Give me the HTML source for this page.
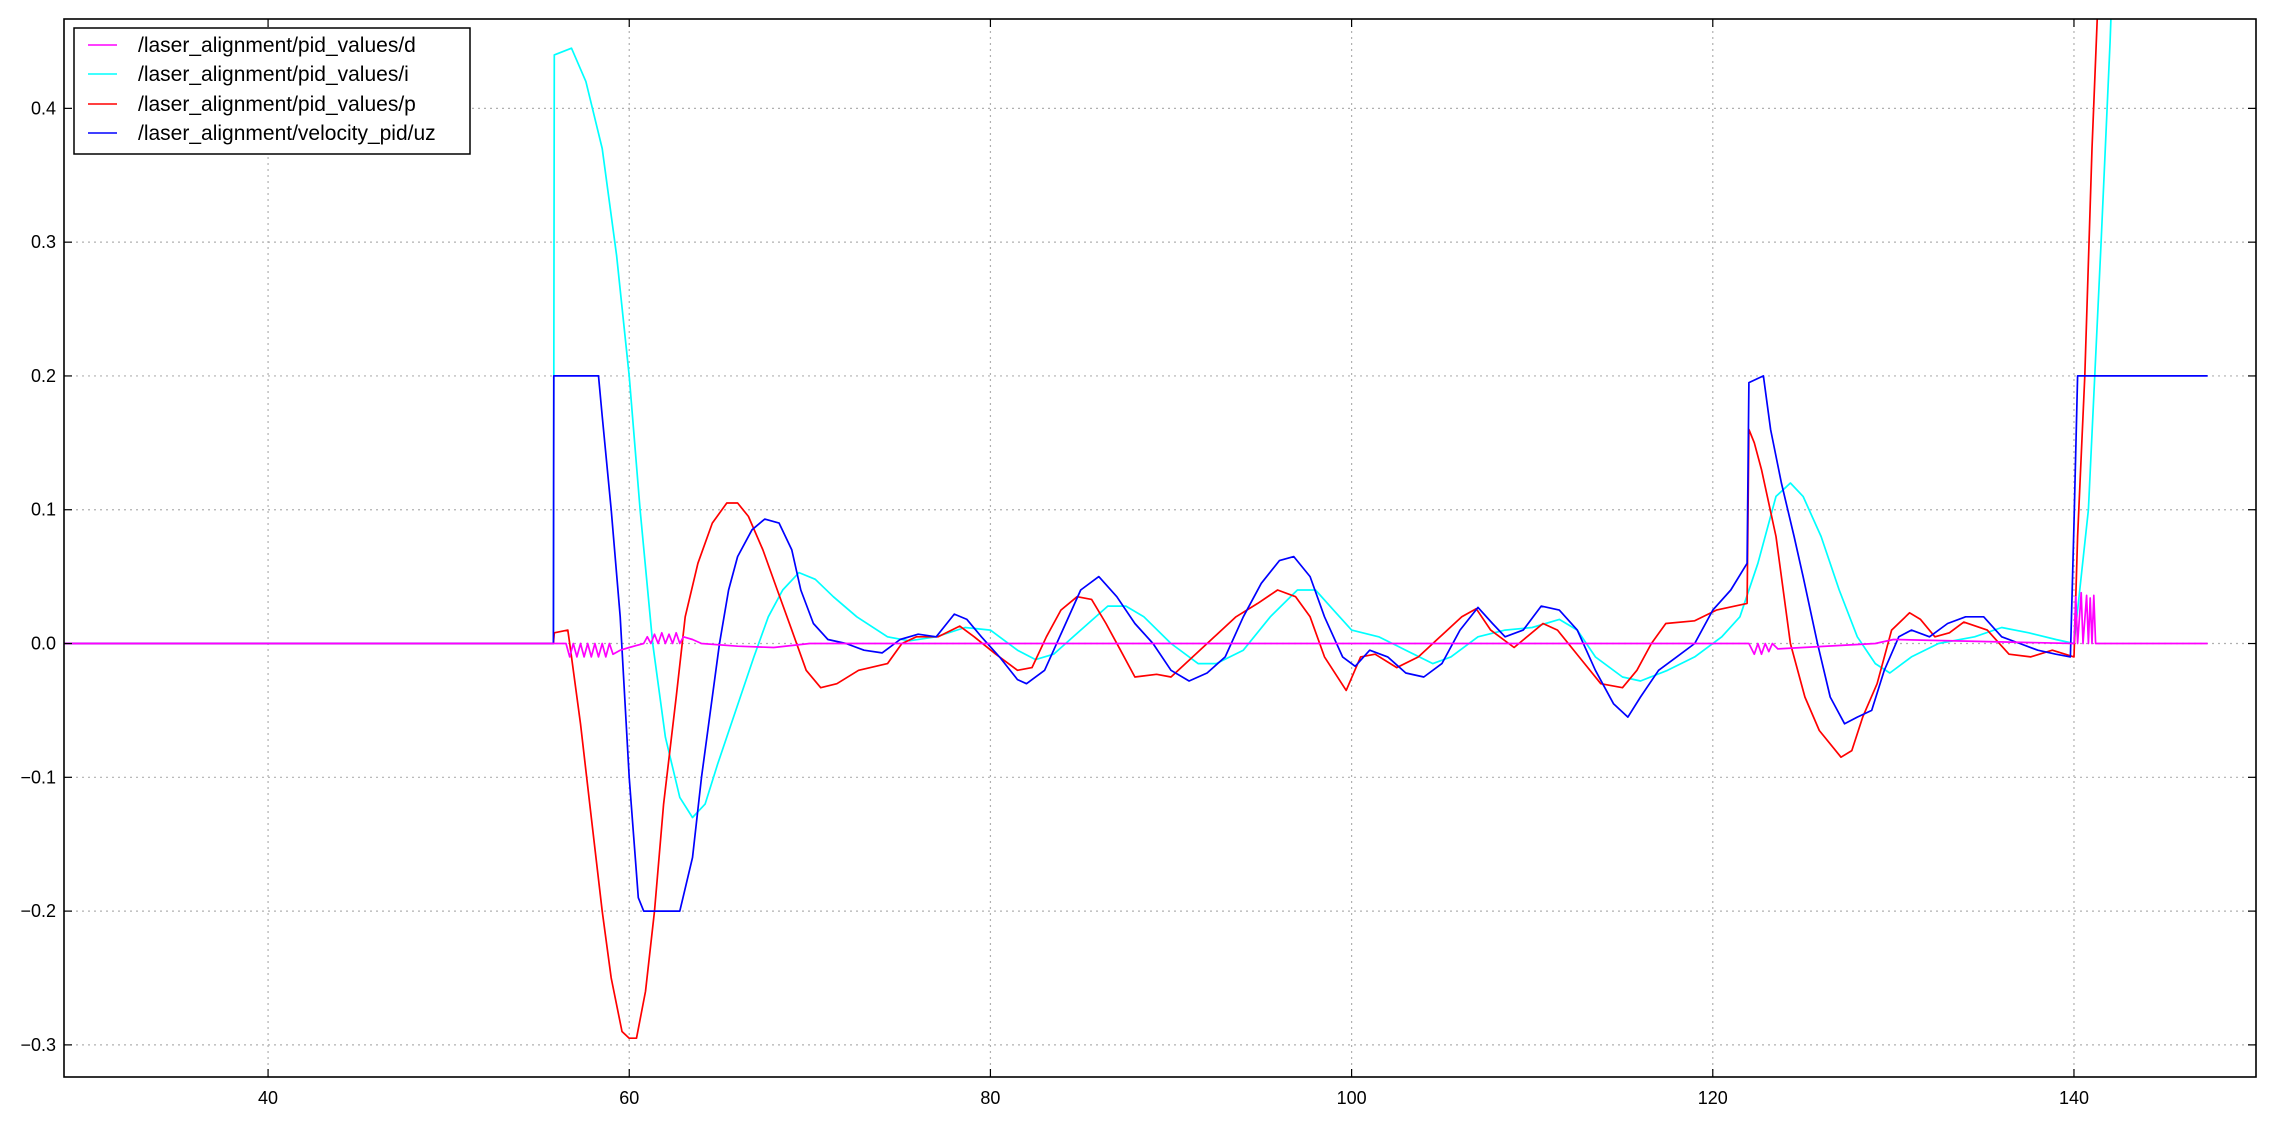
<!DOCTYPE html>
<html><head><meta charset="utf-8"><style>
html,body{margin:0;padding:0;background:#fff;}
svg text{font-family:"Liberation Sans","DejaVu Sans",sans-serif;}
</style></head><body>
<svg id="chart" width="2273" height="1117" viewBox="0 0 2273 1117" xmlns="http://www.w3.org/2000/svg">
<defs><clipPath id="plotclip"><rect x="64" y="19" width="2192" height="1058"/></clipPath></defs>
<rect x="0" y="0" width="2273" height="1117" fill="#fff"/>
<g id="grid"></g>
<g id="series" clip-path="url(#plotclip)"></g>
<rect x="64" y="19" width="2192" height="1058" fill="none" stroke="#000" stroke-width="1.6"/>
<g id="ticks"></g>
<g>
<rect x="74" y="28" width="396" height="126" fill="#fff" stroke="#000" stroke-width="1.5"/>
<g><line x1="88" y1="45" x2="117" y2="45" stroke="#ff00ff" stroke-width="1.6"/><text x="138" y="52" font-size="21">/laser_alignment/pid_values/d</text></g>
<g><line x1="88" y1="74" x2="117" y2="74" stroke="#00ffff" stroke-width="1.6"/><text x="138" y="81" font-size="21">/laser_alignment/pid_values/i</text></g>
<g><line x1="88" y1="104" x2="117" y2="104" stroke="#ff0000" stroke-width="1.6"/><text x="138" y="111" font-size="21">/laser_alignment/pid_values/p</text></g>
<g><line x1="88" y1="133" x2="117" y2="133" stroke="#0000ff" stroke-width="1.6"/><text x="138" y="140" font-size="21">/laser_alignment/velocity_pid/uz</text></g>
</g>
</svg>
<script>
const xTicks=[40,60,80,100,120,140];
const yTicks=[-0.3,-0.2,-0.1,0.0,0.1,0.2,0.3,0.4];
const yTickLabels=["\u22120.3","\u22120.2","\u22120.1","0.0","0.1","0.2","0.3","0.4"];
const pT=[28,55.8,55.85,56.6,56.7,57.3,57.9,58.5,59,59.6,60,60.4,60.9,61.4,61.9,62.6,63.1,63.8,64.6,65.4,66,66.6,67.4,68.2,69,69.8,70.6,71.5,72.7,74.3,75.1,75.9,77.1,78.3,79.1,80.3,81.5,82.3,83.1,83.9,84.8,85.6,86.4,87.2,88,89.2,90,91.2,92.4,93.6,94.8,95.9,96.9,97.7,98.5,99.7,100.5,101.3,102.5,103.7,104.9,106.1,106.9,107.7,109,110.6,111.4,112.6,113.8,115,115.8,116.6,117.4,119,120.2,121.9,122,122.3,122.7,123.5,124.3,125.1,125.9,127.1,127.7,128.3,129.1,129.9,130.9,131.5,132.3,133.1,133.9,135.2,136.4,137.6,138.8,140,140.2,140.6,141,141.3,141.6];
const pV=[0,0,0.008,0.01,0.0,-0.06,-0.13,-0.2,-0.25,-0.29,-0.295,-0.295,-0.26,-0.2,-0.12,-0.04,0.02,0.06,0.09,0.105,0.105,0.095,0.07,0.04,0.01,-0.02,-0.033,-0.03,-0.02,-0.015,0,0.005,0.005,0.013,0.005,-0.008,-0.02,-0.018,0.005,0.025,0.035,0.033,0.015,-0.005,-0.025,-0.023,-0.025,-0.01,0.005,0.02,0.03,0.04,0.035,0.02,-0.01,-0.035,-0.01,-0.008,-0.018,-0.01,0.005,0.02,0.026,0.01,-0.003,0.015,0.01,-0.01,-0.03,-0.033,-0.02,0.0,0.015,0.017,0.025,0.03,0.16,0.15,0.13,0.08,0,-0.04,-0.065,-0.085,-0.08,-0.055,-0.03,0.01,0.023,0.018,0.005,0.008,0.016,0.01,-0.008,-0.01,-0.005,-0.01,0.08,0.2,0.37,0.47,0.6];
const iT=[28,55.8,55.85,56.8,57.6,58.5,59.3,60,60.6,61.3,62,62.8,63.5,64.2,64.9,65.9,66.9,67.7,68.5,69.4,70.3,71.3,72.6,74.3,75.5,77,78.6,80,81.5,82.5,83.5,85,86.5,87.5,88.5,90,91.5,92.5,94,95.5,97,98,99,100,101.5,103,104.5,105.5,107,108.5,110,111.5,112.5,113.5,115,116,117.5,119,120.5,121.5,122.5,123.5,124.3,125,126,127,128,129,129.8,131,132.5,134.5,136,137.5,139,140,140.8,141.5,142,142.4];
const iV=[0,0,0.44,0.445,0.42,0.37,0.29,0.2,0.1,0,-0.07,-0.115,-0.13,-0.12,-0.09,-0.05,-0.01,0.02,0.04,0.053,0.048,0.035,0.02,0.005,0.002,0.005,0.012,0.01,-0.005,-0.012,-0.008,0.01,0.028,0.028,0.02,0.0,-0.015,-0.015,-0.005,0.02,0.04,0.04,0.025,0.01,0.005,-0.005,-0.015,-0.01,0.005,0.01,0.012,0.018,0.01,-0.01,-0.025,-0.028,-0.02,-0.01,0.005,0.02,0.06,0.11,0.12,0.11,0.08,0.04,0.005,-0.015,-0.022,-0.01,0,0.005,0.012,0.008,0.003,0,0.1,0.3,0.45,0.6];
const uT=[28,55.8,55.82,58.3,58.5,59,59.5,60,60.5,60.8,62.8,63.5,64,64.5,65,65.5,66,66.8,67.5,68.3,69,69.5,70.2,71,72,73,74,75,76,77,78,78.7,79.5,80.5,81.5,82,83,84,85,86,87,88,89,90,91,92,93,94,95,96,96.8,97.7,98.5,99.5,100.2,101,102,103,104,105,106,107,107.8,108.5,109.5,110.5,111.5,112.5,113.5,114.5,115.3,116,117,118,119,120,121,121.9,122,122.8,123.2,123.8,124.5,125,125.8,126.5,127.3,128,128.8,129.5,130.3,131,132,133,134,135,136,137,138,139,139.8,140,140.2,147.4];
const uV=[0,0,0.2,0.2,0.17,0.1,0.02,-0.1,-0.19,-0.2,-0.2,-0.16,-0.1,-0.05,0.0,0.04,0.065,0.085,0.093,0.09,0.07,0.04,0.015,0.003,0,-0.005,-0.007,0.003,0.007,0.005,0.022,0.018,0.005,-0.01,-0.027,-0.03,-0.02,0.01,0.04,0.05,0.035,0.015,0,-0.02,-0.028,-0.022,-0.01,0.02,0.045,0.062,0.065,0.05,0.02,-0.01,-0.017,-0.005,-0.01,-0.022,-0.025,-0.015,0.01,0.027,0.015,0.005,0.01,0.028,0.025,0.01,-0.02,-0.045,-0.055,-0.04,-0.02,-0.01,0.0,0.025,0.04,0.06,0.195,0.2,0.16,0.12,0.08,0.05,0.0,-0.04,-0.06,-0.055,-0.05,-0.02,0.005,0.01,0.005,0.015,0.02,0.02,0.005,0,-0.005,-0.008,-0.01,0.09,0.2,0.2];
const dT=[28,56.5,56.7,56.9,57.1,57.3,57.5,57.7,57.9,58.1,58.3,58.5,58.7,58.9,59.1,59.5,60,60.8,61,61.2,61.4,61.6,61.8,62,62.2,62.4,62.6,62.8,63,63.5,64,66,68,70,100,122,122.3,122.5,122.7,122.9,123.1,123.3,123.6,129,130,140,140.1,140.2,140.4,140.5,140.7,140.8,140.9,141,141.1,141.2,141.3,147.4];
const dV=[0,0,-0.01,0,-0.01,0,-0.01,0,-0.01,0,-0.01,0,-0.01,0,-0.008,-0.005,-0.003,0,0.005,0,0.007,0,0.008,0,0.007,0,0.008,0,0.005,0.003,0,-0.002,-0.003,0,0,0,-0.008,0,-0.008,0,-0.006,0,-0.004,0,0.003,0,0.035,0,0.038,0,0.036,0,0.034,0,0.036,0,0,0];
const X0=28.7,X1=150.08,Y0=-0.324,Y1=0.4668;
const L=64,R=2256,T=19,B=1077;
function sx(v){return L+(v-X0)/(X1-X0)*(R-L);}
function sy(v){return B-(v-Y0)/(Y1-Y0)*(B-T);}
const NS="http://www.w3.org/2000/svg";
const grid=document.getElementById('grid'),ticks=document.getElementById('ticks'),series=document.getElementById('series');
function mk(tag,attrs,parent){const e=document.createElementNS(NS,tag);for(const k in attrs)e.setAttribute(k,attrs[k]);parent.appendChild(e);return e;}
xTicks.forEach(function(v){
 const x=sx(v);
 const g=mk('line',{x1:x,y1:T,x2:x,y2:B,stroke:'#b0b0b0','stroke-width':1.2,'stroke-dasharray':'2,4'},grid);
 
 
 const t1=mk('line',{x1:x,y1:B,x2:x,y2:B-8,stroke:'#000','stroke-width':1.2},ticks);
 
 
 const t2=mk('line',{x1:x,y1:T,x2:x,y2:T+8,stroke:'#000','stroke-width':1.2},ticks);
 
 
 const lb=mk('text',{x:x,y:B+27,'font-size':18,'text-anchor':'middle'},ticks);
 lb.textContent=String(v);
 
 
});
yTicks.forEach(function(v,i){
 const y=sy(v);
 const g=mk('line',{x1:L,y1:y,x2:R,y2:y,stroke:'#b0b0b0','stroke-width':1.2,'stroke-dasharray':'2,4'},grid);
 
 
 const t1=mk('line',{x1:L,y1:y,x2:L+8,y2:y,stroke:'#000','stroke-width':1.2},ticks);
 
 
 const t2=mk('line',{x1:R,y1:y,x2:R-8,y2:y,stroke:'#000','stroke-width':1.2},ticks);
 
 
 const lb=mk('text',{x:L-8,y:y+6,'font-size':18,'text-anchor':'end'},ticks);
 lb.textContent=yTickLabels[i];
 
 
});
function line(ts,vs,color,name){
 let d='';for(let i=0;i<ts.length;i++){d+=(i?'L':'M')+sx(ts[i]).toFixed(1)+','+sy(vs[i]).toFixed(1);}
 const p=mk('path',{d:d,fill:'none',stroke:color,'stroke-width':1.7,'stroke-linejoin':'round'},series);
 
 
}
line(iT,iV,'#00ffff','series-i');
line(pT,pV,'#ff0000','series-p');
line(uT,uV,'#0000ff','series-uz');
line(dT,dV,'#ff00ff','series-d');
</script>
</body></html>
